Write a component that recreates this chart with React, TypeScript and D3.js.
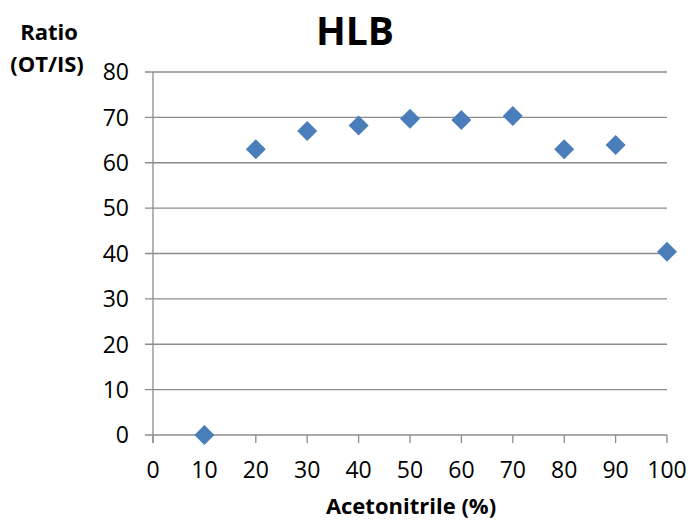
import React from "react";
import * as d3 from "d3";

const xValues = [10, 20, 30, 40, 50, 60, 70, 80, 90, 100];
const yValues = [0, 63, 67, 68.2, 69.7, 69.4, 70.3, 63, 63.9, 40.4];
const xTicks = [0, 10, 20, 30, 40, 50, 60, 70, 80, 90, 100];
const yTicks = [0, 10, 20, 30, 40, 50, 60, 70, 80];

export default function App() {
  const W = 691, H = 520;
  const x = d3.scaleLinear().domain([0, 100]).range([153, 667]);
  const y = d3.scaleLinear().domain([0, 80]).range([435, 72]);
  const font = "'Open Sans', Carlito, Calibri, sans-serif";
  const grid = "#8c8c8c";
  const diamond = (cx: number, cy: number, r: number) =>
    `M${cx},${cy - r}L${cx + r},${cy}L${cx},${cy + r}L${cx - r},${cy}Z`;
  return (
    <svg width={W} height={H} style={{ position: "absolute", left: 0, top: 0 }} fontFamily={font}>
      <rect width={W} height={H} fill="#fff" />
      {yTicks.map((t) => (
        <g key={t}>
          <line x1={145} x2={667} y1={y(t)} y2={y(t)} stroke={grid} strokeWidth={1.3} />
          <text x={129} y={y(t)} dy="0.36em" textAnchor="end" fontSize={23} fill="#000">{t}</text>
        </g>
      ))}
      <line x1={x(0)} x2={x(0)} y1={y(80)} y2={443} stroke={grid} strokeWidth={1.3} />
      {xTicks.map((t) => (
        <g key={t}>
          <line x1={x(t)} x2={x(t)} y1={435} y2={443} stroke={grid} strokeWidth={1.3} />
          <text x={x(t)} y={478} textAnchor="middle" fontSize={23} fill="#000">{t}</text>
        </g>
      ))}
      {xValues.map((v, i) => (
        <path key={v} d={diamond(x(v), y(yValues[i]), 10)} fill="#4a7ebb" />
      ))}
      <text x={355} y={45} textAnchor="middle" fontSize={39} fontWeight="bold">HLB</text>
      <text x={49} y={40} textAnchor="middle" fontSize={22} fontWeight="bold">Ratio</text>
      <text x={47} y={72} textAnchor="middle" fontSize={22} fontWeight="bold">(OT/IS)</text>
      <text x={411} y={514} textAnchor="middle" fontSize={22} fontWeight="bold">Acetonitrile (%)</text>
    </svg>
  );
}
